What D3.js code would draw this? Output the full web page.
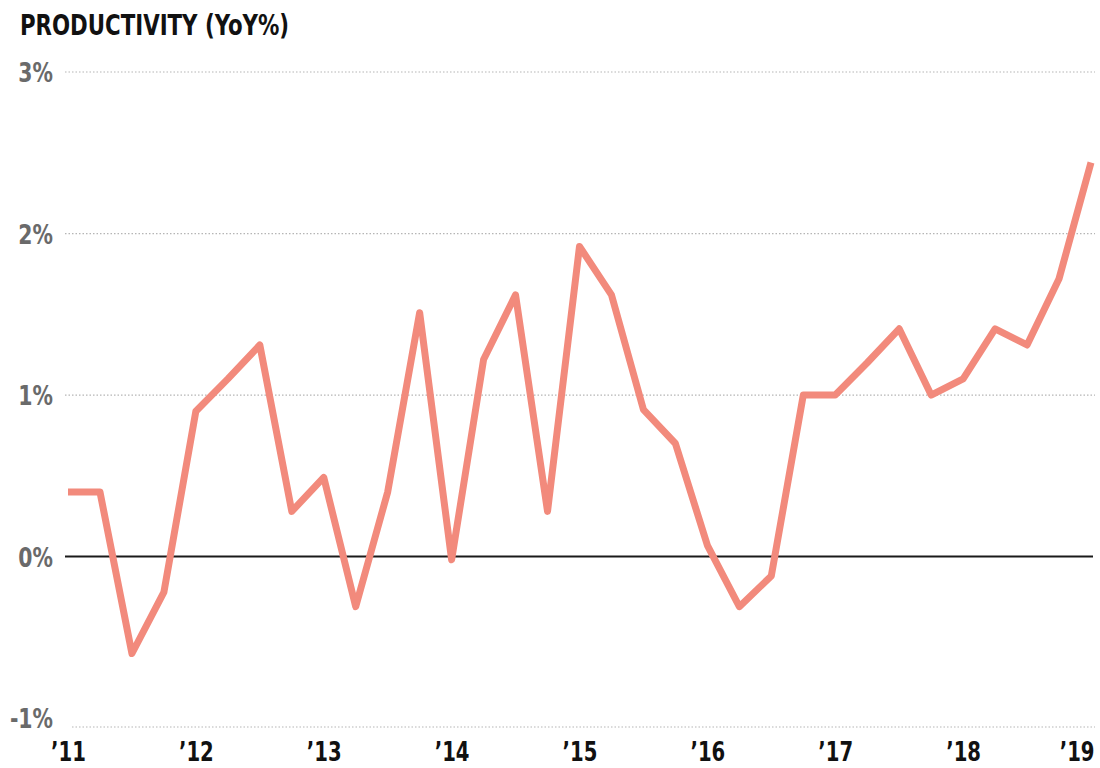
<!DOCTYPE html>
<html>
<head>
<meta charset="utf-8">
<script src="https://cdn.jsdelivr.net/npm/d3@7"></script>
<style>
  html, body { margin: 0; padding: 0; background: #fff; }
  svg { display: block; }
  text { font-family: "Liberation Sans Narrow", "DejaVu Sans Condensed", "Arial Narrow", sans-serif; font-weight: bold; }
</style>
</head>
<body>
<svg id="chart" width="1100" height="768"></svg>
<script>
// ---- Data ----
const quarters = [
  "2011Q1","2011Q2","2011Q3","2011Q4",
  "2012Q1","2012Q2","2012Q3","2012Q4",
  "2013Q1","2013Q2","2013Q3","2013Q4",
  "2014Q1","2014Q2","2014Q3","2014Q4",
  "2015Q1","2015Q2","2015Q3","2015Q4",
  "2016Q1","2016Q2","2016Q3","2016Q4",
  "2017Q1","2017Q2","2017Q3","2017Q4",
  "2018Q1","2018Q2","2018Q3","2018Q4",
  "2019Q1"
];
const productivity = [
  0.4, 0.4, -0.6, -0.22,
  0.9, 1.1, 1.31, 0.28,
  0.49, -0.31, 0.4, 1.51,
  -0.02, 1.22, 1.62, 0.28,
  1.92, 1.62, 0.91, 0.7,
  0.07, -0.31, -0.12, 1.0,
  1.0, 1.2, 1.41, 1.0,
  1.1, 1.41, 1.31, 1.72,
  2.44
];
const yearTicks = ["2011Q1","2012Q1","2013Q1","2014Q1","2015Q1","2016Q1","2017Q1","2018Q1","2019Q1"];
const yearLabels = ["’11","’12","’13","’14","’15","’16","’17","’18","’19"];
const yTicks = [3, 2, 1, 0, -1];
const title = "PRODUCTIVITY (YoY%)";

// ---- Layout ----
const svg = d3.select("#chart");
const plotLeft = 65, plotRight = 1095;

const x = d3.scalePoint().domain(quarters).range([68, 1091]);
const y = d3.scaleLinear().domain([-1.055, 3]).range([727, 72]);

function condense(sel, factor) {
  sel.each(function () {
    const w = this.getComputedTextLength();
    d3.select(this).attr("textLength", w * factor).attr("lengthAdjust", "spacingAndGlyphs");
  });
}

// Title
svg.append("text")
  .attr("x", 20).attr("y", 35)
  .attr("font-size", 28)
  .attr("fill", "#111")
  .attr("textLength", 269)
  .attr("lengthAdjust", "spacingAndGlyphs")
  .text(title);

// Gridlines
const gridVals = yTicks.filter(v => v > 0);
svg.append("g").selectAll("line").data(gridVals).join("line")
  .attr("x1", plotLeft).attr("x2", plotRight)
  .attr("y1", d => y(d)).attr("y2", d => y(d))
  .attr("stroke", "#b5b5b5").attr("stroke-width", 1.2)
  .attr("stroke-dasharray", "1.5,2");

// Bottom axis baseline (dotted) at domain minimum
svg.append("line")
  .attr("x1", 72).attr("x2", plotRight)
  .attr("y1", y(y.domain()[0])).attr("y2", y(y.domain()[0]))
  .attr("stroke", "#b5b5b5").attr("stroke-width", 1.2)
  .attr("stroke-dasharray", "1.5,2");

// Zero line
svg.append("line")
  .attr("x1", plotLeft).attr("x2", 1093)
  .attr("y1", y(0)).attr("y2", y(0))
  .attr("stroke", "#1a1a1a").attr("stroke-width", 2);

// Y labels
const yAxis = d3.axisLeft(y).tickValues(yTicks).tickSize(0).tickPadding(0)
  .tickFormat(d => d + "%");
const gy = svg.append("g").attr("transform", "translate(53,0)").call(yAxis);
gy.select(".domain").remove();
gy.selectAll("text")
  .attr("font-size", 27)
  .attr("fill", "#6a6a6a")
  .attr("font-family", null)
  .attr("dy", "0.36em");
condense(gy.selectAll("text"), 0.84);

// X labels
const xAxis = d3.axisBottom(x).tickValues(yearTicks).tickSize(0).tickPadding(0)
  .tickFormat((d, i) => yearLabels[i]);
const gx = svg.append("g").attr("transform", "translate(0,761)").call(xAxis);
gx.select(".domain").remove();
gx.selectAll("text")
  .attr("font-size", 26)
  .attr("fill", "#111")
  .attr("font-family", null)
  .attr("dy", 0)
  .attr("y", 0);
condense(gx.selectAll("text"), 0.84);
// keep the last label inside the page
gx.selectAll(".tick").filter(d => d === yearTicks[yearTicks.length - 1])
  .select("text").attr("text-anchor", "end").attr("x", 3);

// Line
const line = d3.line()
  .x((d, i) => x(quarters[i]))
  .y(d => y(d));
svg.append("path")
  .datum(productivity)
  .attr("d", line)
  .attr("fill", "none")
  .attr("stroke", "#f28a7c")
  .attr("stroke-width", 7)
  .attr("stroke-linejoin", "round")
  .attr("stroke-linecap", "butt");
</script>
</body>
</html>
